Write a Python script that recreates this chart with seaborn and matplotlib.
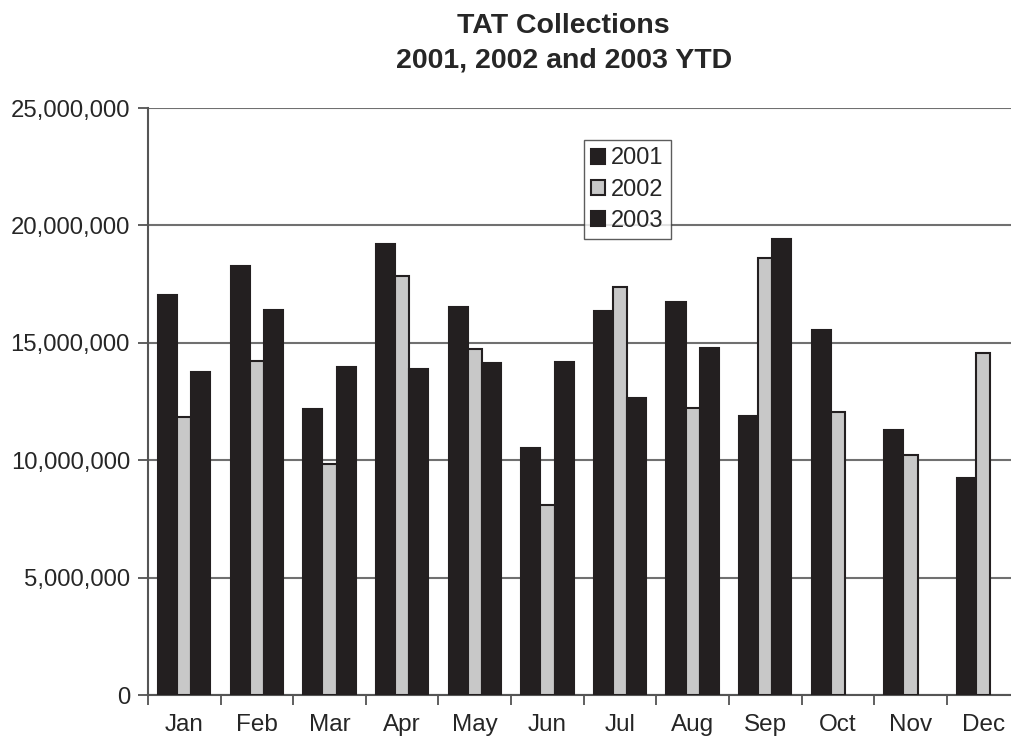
import numpy as np
import pandas as pd
import matplotlib
matplotlib.use("Agg")
import matplotlib.pyplot as plt
import seaborn as sns
from matplotlib.ticker import FuncFormatter

#%% Data

months = ["Jan", "Feb", "Mar", "Apr", "May", "Jun",
          "Jul", "Aug", "Sep", "Oct", "Nov", "Dec"]
years = ["2001", "2002", "2003"]

tat_2001 = [17.05, 18.27, 12.18, 19.21, 16.54, 10.53,
            16.35, 16.75, 11.88, 15.55, 11.30, 9.24]
tat_2002 = [11.85, 14.22, 9.84, 17.86, 14.74, 8.09,
            17.39, 12.21, 18.63, 12.07, 10.22, 14.55]
tat_2003 = [13.76, 16.40, 13.97, 13.88, 14.13, 14.18,
            12.66, 14.77, 19.42, np.nan, np.nan, np.nan]

df = pd.DataFrame({
    "month": months * 3,
    "year": [y for y in years for _ in months],
    "value": np.array(tat_2001 + tat_2002 + tat_2003) * 1e6,
})

#%% Plot

sns.set_style("white")
plt.rcParams["font.family"] = ["Liberation Sans", "DejaVu Sans"]

fig = plt.figure(figsize=(10.11, 7.41), dpi=100)
# the plot area runs a little past the right edge of the picture
ax = fig.add_axes([148 / 1011, 46 / 741, 871.4 / 1011, 587 / 741])

dark = "#231f20"
light = "#c8c8c8"

group_w = 0.72
sns.barplot(data=df, x="month", y="value", hue="year", order=months,
            hue_order=years, palette=[dark, light, dark], width=group_w,
            edgecolor=dark, linewidth=1.5, saturation=1, ax=ax, zorder=3)

# dark bars look wider than the grey one in the original
widths = [0.262, 0.196, 0.262]
offsets = [0, 0.262, 0.458]
for k, cont in enumerate(ax.containers):
    for i, p in enumerate(cont.patches):
        p.set_x(i - group_w / 2 + offsets[k])
        p.set_width(widths[k])

ax.set_ylim(0, 25e6)
ax.set_xlim(-0.5, 11.5)
ax.set_yticks(np.arange(0, 25e6 + 1, 5e6))
ax.yaxis.set_major_formatter(FuncFormatter(lambda v, p: f"{int(v):,}"))
ax.yaxis.grid(True, color="#707070", linewidth=1.5, zorder=0)
ax.set_axisbelow(True)

# tick marks between categories, labels in the middle
ax.set_xticks(np.arange(-0.5, 12, 1), labels=[])
ax.set_xticks(range(12), labels=months, minor=True)
ax.tick_params(axis="x", which="major", direction="out", length=7,
               width=1.2, color="#444444", bottom=True)
ax.tick_params(axis="x", which="minor", length=0, pad=14, labelsize=17.5)
ax.tick_params(axis="y", direction="out", length=7, width=1.2,
               color="#444444", left=True, labelsize=17.2, pad=6)

for s in ["top", "right"]:
    ax.spines[s].set_visible(False)
for s in ["left", "bottom"]:
    ax.spines[s].set_color("#555555")
    ax.spines[s].set_linewidth(1.5)

ax.set_xlabel("")
ax.set_ylabel("")
fig.text(0.557, 1 - 33 / 741, "TAT Collections", ha="center", va="baseline",
         fontsize=20.5, fontweight="bold")
fig.text(0.558, 1 - 67 / 741, "2001, 2002 and 2003 YTD", ha="center",
         va="baseline", fontsize=20.5, fontweight="bold")

leg = ax.legend(loc="upper left", bbox_to_anchor=(0.5003, 0.945),
                fontsize=17, frameon=True, fancybox=False,
                handlelength=0.6, handleheight=0.6, handletextpad=0.25,
                labelspacing=0.4, borderpad=0.3, borderaxespad=0)
leg.get_frame().set_edgecolor("#333333")
leg.get_frame().set_linewidth(1.0)
leg.set_zorder(5)

fig.savefig("out.png", dpi=100)
